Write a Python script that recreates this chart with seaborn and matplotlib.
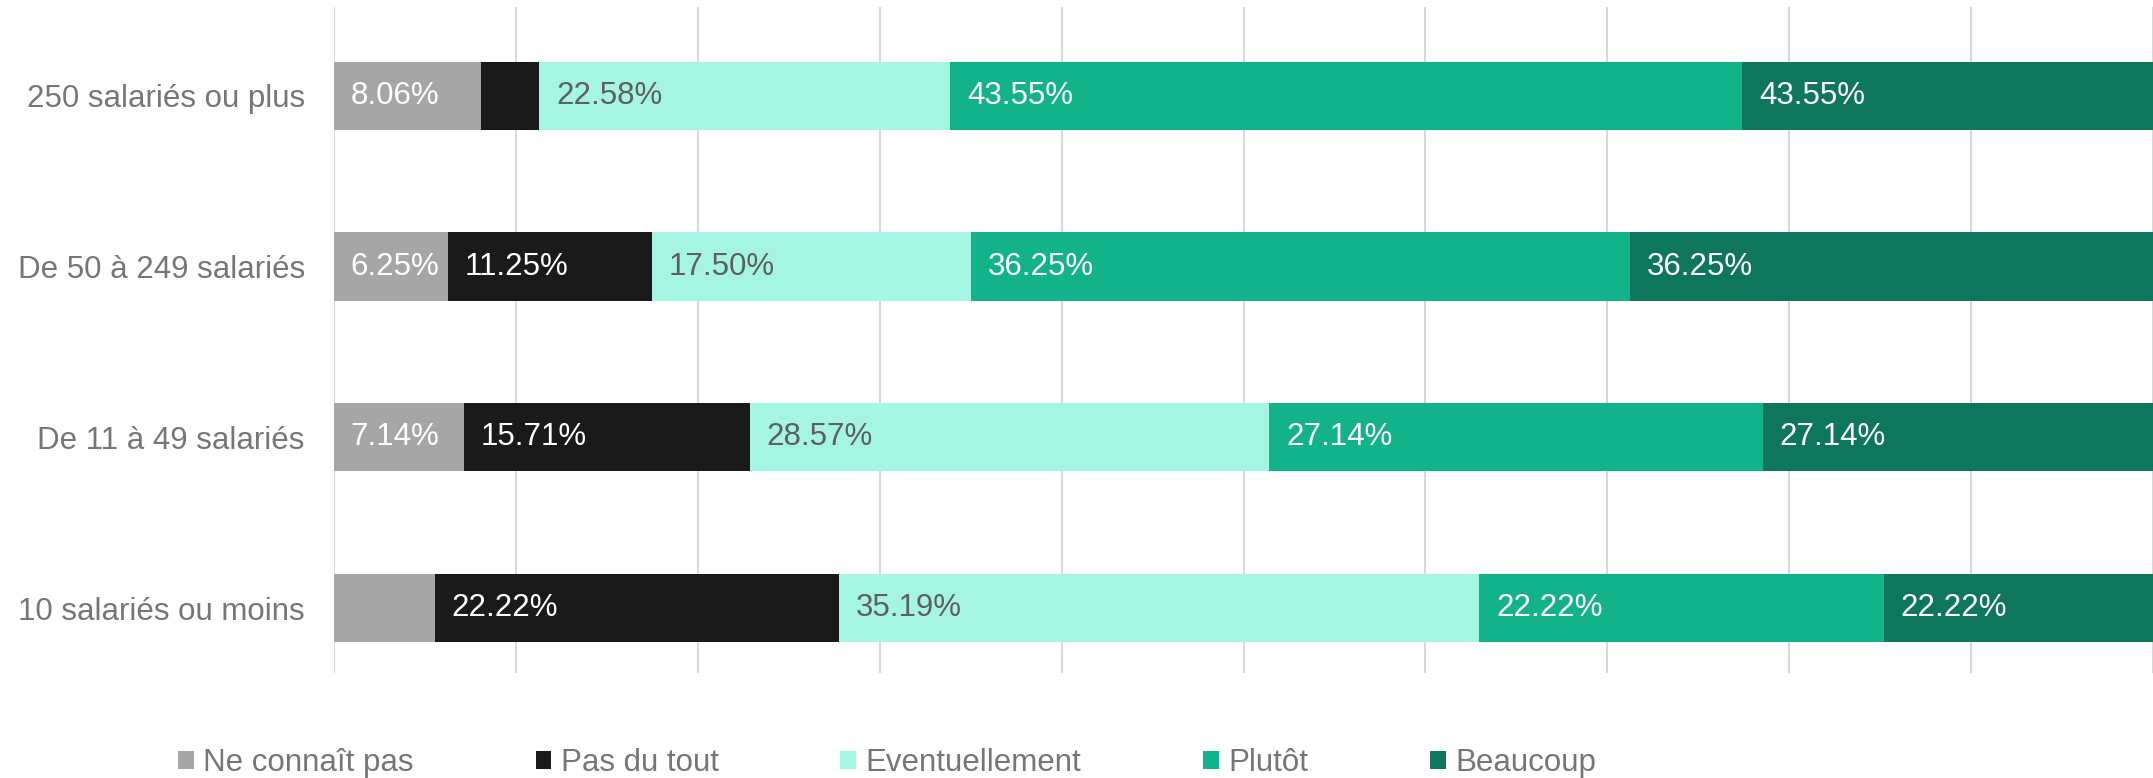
import numpy as np
import pandas as pd
import matplotlib
matplotlib.use("Agg")
import matplotlib.pyplot as plt
from matplotlib.patches import Patch
import seaborn as sns

# Data (percent of respondents, by company size)
categories = ["250 salariés ou plus", "De 50 à 249 salariés",
              "De 11 à 49 salariés", "10 salariés ou moins"]
series = ["Ne connaît pas", "Pas du tout", "Eventuellement", "Plutôt", "Beaucoup"]
ne_connait_pas = [8.06, 6.25, 7.14, 5.56]
pas_du_tout = [3.23, 11.25, 15.71, 22.22]
eventuellement = [22.58, 17.50, 28.57, 35.19]
plutot = [43.55, 36.25, 27.14, 22.22]
beaucoup = [43.55, 36.25, 27.14, 22.22]

colors = ["#A6A6A6", "#1A1A1A", "#A5F5E3", "#12B38A", "#0E765C"]
label_colors = ["white", "white", "#5F5F5F", "white", "white"]
text_grey = "#767676"

# ==========================================
# Build long table with stacked positions
# ==========================================
values = [ne_connait_pas, pas_du_tout, eventuellement, plutot, beaucoup]
rows = []
for i, cat in enumerate(categories):
    left = 0.0
    for s, vals in zip(series, values):
        rows.append({"category": cat, "series": s, "value": vals[i],
                     "left": left, "right": left + vals[i]})
        left += vals[i]
df = pd.DataFrame(rows)

sns.set_style("white")
plt.rcParams["font.family"] = ["Liberation Sans", "DejaVu Sans"]

fig = plt.figure(figsize=(21.53, 7.78), dpi=100)
ax = fig.add_axes([334 / 2153, 1 - 673 / 778, 1 - 334 / 2153, (673 - 7) / 778])

# draw cumulative bars from the last series to the first -> stacked look
for s, c in reversed(list(zip(series, colors))):
    sub = df[df["series"] == s]
    sns.barplot(data=sub, x="right", y="category", order=categories,
                orient="h", color=c, saturation=1, width=0.4,
                linewidth=0, ax=ax, errorbar=None)

# data labels (Excel hides those that don't fit)
for s, lc in zip(series, label_colors):
    sub = df[df["series"] == s]
    for _, r in sub.iterrows():
        if r["value"] < 6:
            continue
        yi = categories.index(r["category"])
        ax.annotate(f"{r['value']:.2f}%", xy=(r["left"], yi), xytext=(12, 0),
                    textcoords="offset points", va="center", ha="left",
                    fontsize=22.5, color=lc, clip_on=True)

ax.set_xlim(0, 100)
ax.set_ylim(3.38, -0.52)
ax.set_xticks(np.arange(0, 101, 10))
ax.set_xticklabels([])
ax.xaxis.grid(True, color="#D9D9D9", linewidth=1.5)
ax.yaxis.grid(False)
ax.set_axisbelow(True)
ax.set_xlabel("")
ax.set_ylabel("")
ax.tick_params(axis="y", length=0, pad=21, labelsize=22.5, labelcolor=text_grey)
ax.tick_params(axis="x", length=0)
for sp in ax.spines.values():
    sp.set_visible(False)

handles = [Patch(facecolor=c, edgecolor="none") for c in colors]
fig.legend(handles, series, loc="center", bbox_to_anchor=(887 / 2153, 1 - 763 / 778),
           ncol=5, frameon=False, fontsize=22.5, labelcolor=text_grey,
           handlelength=0.5, handleheight=0.5, handletextpad=0.3,
           columnspacing=3.9)

fig.savefig("out.png", dpi=100)
